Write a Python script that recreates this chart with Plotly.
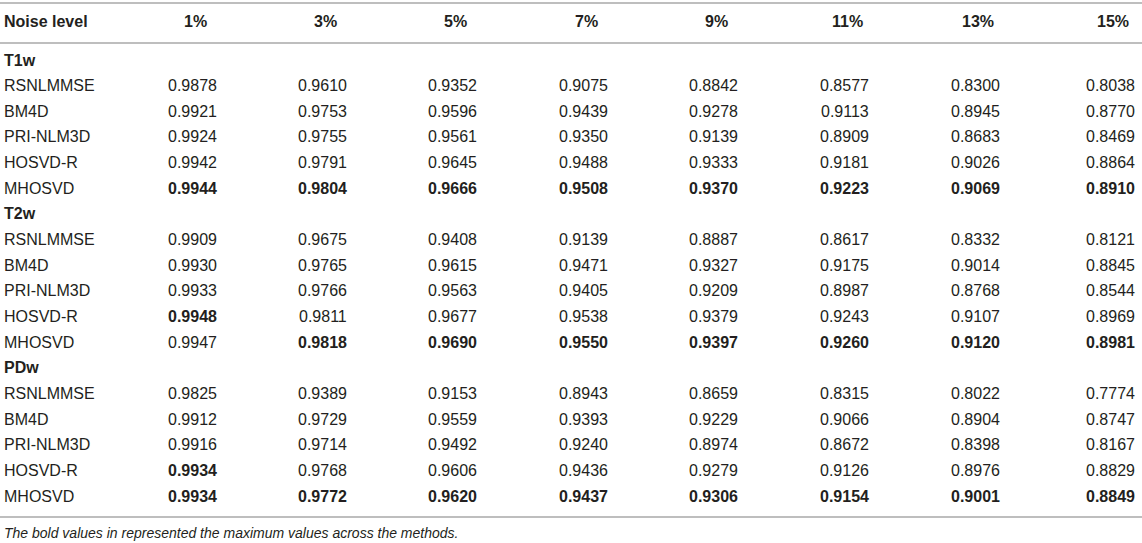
import plotly.graph_objects as go

# Dados da tabela
niveis = ["1%", "3%", "5%", "7%", "9%", "11%", "13%", "15%"]
metodos = ["RSNLMMSE", "BM4D", "PRI-NLM3D", "HOSVD-R", "MHOSVD"]

t1w = [
    [0.9878, 0.9610, 0.9352, 0.9075, 0.8842, 0.8577, 0.8300, 0.8038],
    [0.9921, 0.9753, 0.9596, 0.9439, 0.9278, 0.9113, 0.8945, 0.8770],
    [0.9924, 0.9755, 0.9561, 0.9350, 0.9139, 0.8909, 0.8683, 0.8469],
    [0.9942, 0.9791, 0.9645, 0.9488, 0.9333, 0.9181, 0.9026, 0.8864],
    [0.9944, 0.9804, 0.9666, 0.9508, 0.9370, 0.9223, 0.9069, 0.8910],
]
t2w = [
    [0.9909, 0.9675, 0.9408, 0.9139, 0.8887, 0.8617, 0.8332, 0.8121],
    [0.9930, 0.9765, 0.9615, 0.9471, 0.9327, 0.9175, 0.9014, 0.8845],
    [0.9933, 0.9766, 0.9563, 0.9405, 0.9209, 0.8987, 0.8768, 0.8544],
    [0.9948, 0.9811, 0.9677, 0.9538, 0.9379, 0.9243, 0.9107, 0.8969],
    [0.9947, 0.9818, 0.9690, 0.9550, 0.9397, 0.9260, 0.9120, 0.8981],
]
pdw = [
    [0.9825, 0.9389, 0.9153, 0.8943, 0.8659, 0.8315, 0.8022, 0.7774],
    [0.9912, 0.9729, 0.9559, 0.9393, 0.9229, 0.9066, 0.8904, 0.8747],
    [0.9916, 0.9714, 0.9492, 0.9240, 0.8974, 0.8672, 0.8398, 0.8167],
    [0.9934, 0.9768, 0.9606, 0.9436, 0.9279, 0.9126, 0.8976, 0.8829],
    [0.9934, 0.9772, 0.9620, 0.9437, 0.9306, 0.9154, 0.9001, 0.8849],
]
grupos = [("T1w", t1w), ("T2w", t2w), ("PDw", pdw)]
legenda = "The bold values in represented the maximum values across the methods."

# Layout da tabela (pixels)
W, H = 1142, 543
col_dir = [219, 349, 479, 610, 740, 871, 1002, 1137]
y_cab = 21
y0, passo = 60, 25.65
cor_txt = "#231f20"
cor_linha = "#a8a8a8"
fonte = "Liberation Sans, Arial, Helvetica, sans-serif"
tam = 16

fig = go.Figure()
fig.add_trace(go.Scatter(x=[0, W], y=[0, H], mode="markers",
                         marker=dict(opacity=0), hoverinfo="skip", showlegend=False))

anot = []

def texto(x, y, t, bold=False, anchor="left", italic=False, size=tam):
    if bold:
        t = f"<b>{t}</b>"
    if italic:
        t = f"<i>{t}</i>"
    anot.append(dict(x=x, y=y, xref="x", yref="y", text=t, showarrow=False,
                     xanchor=anchor, yanchor="middle",
                     font=dict(family=fonte, size=size, color=cor_txt)))

# Cabeçalho
texto(2, y_cab, "Noise level", bold=True)
for j, nv in enumerate(niveis):
    texto(col_dir[j] - 24, y_cab, nv, bold=True, anchor="center")

linha = 0
for nome, dados in grupos:
    y = y0 + passo * linha
    texto(2, y, nome, bold=True)
    linha += 1
    maximos = [max(dados[i][j] for i in range(len(metodos))) for j in range(len(niveis))]
    for i, met in enumerate(metodos):
        y = y0 + passo * linha
        texto(2, y, met)
        for j in range(len(niveis)):
            v = dados[i][j]
            texto(col_dir[j], y, f"{v:.4f}", bold=(v == maximos[j]), anchor="right")
        linha += 1

texto(2, 533, legenda, italic=True, size=14)

linhas = []
for yl in [3, 43, 517]:
    linhas.append(dict(type="line", xref="x", yref="y", x0=0, x1=W, y0=yl, y1=yl,
                       line=dict(color=cor_linha, width=1.5)))

fig.update_layout(
    width=W, height=H,
    margin=dict(l=0, r=0, t=0, b=0),
    paper_bgcolor="white", plot_bgcolor="white",
    xaxis=dict(range=[0, W], visible=False, fixedrange=True),
    yaxis=dict(range=[H, 0], visible=False, fixedrange=True),
    annotations=anot,
    shapes=linhas,
)

fig.write_html("out.html", config={"displayModeBar": False},
               post_script="document.body.style.margin='0px';")
